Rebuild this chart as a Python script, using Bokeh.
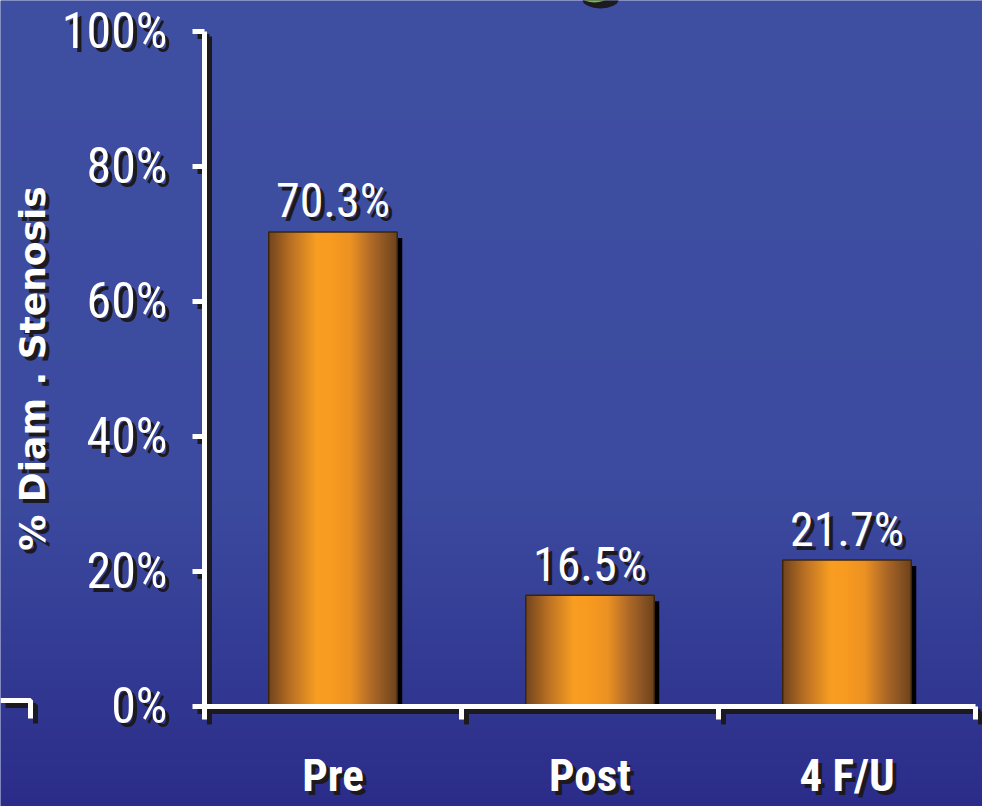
import numpy as np
from bokeh.plotting import figure
from bokeh.models import Range1d
from bokeh.core.properties import value
from bokeh.embed import file_html
from bokeh.resources import INLINE

# ---- data -------------------------------------------------------------
categories = ["Pre", "Post", "4 F/U"]
stenosis = [70.3, 16.5, 21.7]
value_labels = ["70.3%", "16.5%", "21.7%"]
y_ticks = [0, 20, 40, 60, 80, 100]
y_tick_labels = ["0%", "20%", "40%", "60%", "80%", "100%"]
y_title = "% Diam . Stenosis"

# ---- page layout (pixels) ---------------------------------------------
W, H = 982, 806
AX_LEFT, AX_RIGHT = 204, 975      # horizontal extent of the category axis
AX_ZERO, AX_TOP = 706, 31         # rows of 0 % and 100 %

n = len(categories)
ux = n / (AX_RIGHT - AX_LEFT)     # data units per pixel along x
uy = 100.0 / (AX_ZERO - AX_TOP)   # data units per pixel along y


def X(px):
    return -0.5 + (px - AX_LEFT) * ux


def Y(py):
    return (AX_ZERO - py) * uy


NARROW = value("'Roboto Condensed', 'Noto Sans Condensed', 'DejaVu Sans Condensed', sans-serif")
WIDE_BOLD = value("'DejaVu Sans', sans-serif")
WHITE = "#ffffff"
SHADOW = "#1c1a1e"
SH = 5  # drop-shadow offset in pixels

p = figure(width=W, height=H,
           x_range=Range1d(X(0), X(W)), y_range=Range1d(Y(H), Y(0)),
           output_backend="svg", toolbar_location=None, min_border=0,
           x_axis_location=None, y_axis_location=None,
           outline_line_color=None)
p.grid.visible = False
p.background_fill_color = "#3d4c9f"
p.border_fill_color = "#3d4c9f"


def rgba_image(rgb_rows):
    """rgb_rows: array (rows, cols, 3) of 0..255 -> uint32 RGBA image"""
    rows, cols, _ = rgb_rows.shape
    img = np.empty((rows, cols), dtype=np.uint32)
    view = img.view(dtype=np.uint8).reshape((rows, cols, 4))
    view[:, :, :3] = np.clip(rgb_rows, 0, 255).astype(np.uint8)
    view[:, :, 3] = 255
    return img


# ---- vertical blue background gradient --------------------------------
py = np.arange(H)[::-1].astype(float)          # image row 0 is the bottom
top_c = np.array([63, 79, 162])
mid_c = np.array([60, 75, 159])
bot_c = np.array([43, 44, 137])
t1 = np.clip(py / 480.0, 0, 1)[:, None]
t2 = (np.clip((py - 480.0) / (H - 480.0), 0, 1) ** 1.1)[:, None]
bg = top_c + (mid_c - top_c) * t1
bg = bg + (bot_c - mid_c) * t2
bg_img = rgba_image(bg[:, None, :])
p.image_rgba(image=[bg_img], x=X(0), y=Y(H), dw=X(W) - X(0), dh=Y(0) - Y(H))

# ---- bars ---------------------------------------------------------------
xs = np.arange(n, dtype=float)
vals = np.array(stenosis)
BAR_W = 0.5

# drop shadow behind each bar
p.vbar(x=xs + SH * ux, top=vals - 6 * uy, bottom=0, width=BAR_W,
       fill_color="#000000", line_color=None)

# horizontal orange gradient for the bar faces
stops_t = [0.0, 0.18, 0.37, 0.48, 0.64, 0.80, 1.0]
stops_c = np.array([[116, 70, 30], [190, 115, 36], [248, 158, 34], [248, 155, 32],
                    [236, 146, 36], [176, 106, 40], [110, 68, 30]], dtype=float)
tt = np.linspace(0, 1, 128)
grad = np.stack([np.interp(tt, stops_t, stops_c[:, k]) for k in range(3)], axis=-1)
grad_img = rgba_image(grad[None, :, :])
p.image_rgba(image=[grad_img] * n, x=list(xs - BAR_W / 2), y=[0] * n,
             dw=[BAR_W] * n, dh=list(vals))
p.vbar(x=xs, top=vals, bottom=0, width=BAR_W, fill_color=None,
       line_color="#3b240c", line_width=1.5)

# ---- axes (white lines with black drop shadow) ---------------------------
tick_len_y = 12 * ux
tick_len_x = 13 * uy
bounds = [i - 0.5 for i in range(n + 1)]

seg_x0 = [-0.5, -0.5 - tick_len_y] + [-0.5 - tick_len_y] * (len(y_ticks) - 1) + bounds
seg_x1 = [-0.5, bounds[-1]] + [-0.5] * (len(y_ticks) - 1) + bounds
seg_y0 = [0, 0] + list(y_ticks[1:]) + [0] * len(bounds)
seg_y1 = [100, 0] + list(y_ticks[1:]) + [-tick_len_x] * len(bounds)

p.segment(x0=[v + SH * ux for v in seg_x0], x1=[v + SH * ux for v in seg_x1],
          y0=[v - SH * uy for v in seg_y0], y1=[v - SH * uy for v in seg_y1],
          line_color=SHADOW, line_width=5)
p.segment(x0=seg_x0, x1=seg_x1, y0=seg_y0, y1=seg_y1,
          line_color=WHITE, line_width=5)

# corner mark at the lower left edge
cx = [X(0), X(30), X(30)]
cy = [Y(700), Y(700), Y(718)]
p.line([v + SH * ux for v in cx], [v - SH * uy for v in cy], line_color=SHADOW, line_width=5)
p.line(cx, cy, line_color=WHITE, line_width=5)

# partial title glyph at the top edge
p.ellipse(x=X(600), y=Y(-1), width=36 * ux, height=18 * uy,
          fill_color="#1d1b1f", line_color=None)
p.ellipse(x=X(594), y=Y(-3), width=24 * ux, height=10 * uy,
          fill_color="#7dbb3a", line_color=None)


# ---- texts with drop shadows ------------------------------------------
def shadowed_text(x, y, text, dx=0, dy=0, off=4, **kw):
    p.text(x=x, y=y, text=text, x_offset=dx + off, y_offset=dy + off,
           text_color=SHADOW, **kw)
    p.text(x=x, y=y, text=text, x_offset=dx, y_offset=dy,
           text_color=WHITE, **kw)


shadowed_text([-0.5] * len(y_ticks), y_ticks, y_tick_labels, dx=-37, dy=-1,
              text_align="right", text_baseline="middle",
              text_font=NARROW, text_font_size="50px")

shadowed_text(list(xs), list(vals), value_labels, dy=-31,
              text_align="center", text_baseline="middle",
              text_font=NARROW, text_font_size="48px")

shadowed_text(list(xs), [0] * n, categories, dy=69,
              text_align="center", text_baseline="middle",
              text_font=NARROW, text_font_size="45px", text_font_style="bold")

shadowed_text([X(32)], [Y(368)], [y_title], angle=np.pi / 2,
              text_align="center", text_baseline="middle",
              text_font=WIDE_BOLD, text_font_size="36px", text_font_style="bold")

open("out.html", "w").write(file_html(p, INLINE))
